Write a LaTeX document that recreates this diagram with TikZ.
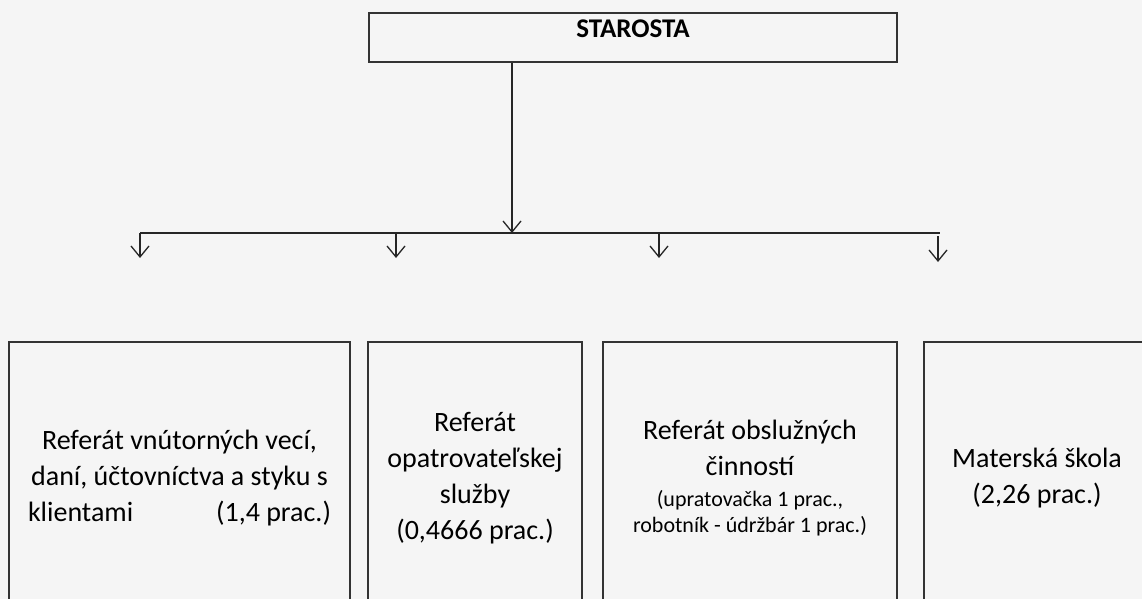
\documentclass[tikz,border=0pt]{standalone}
\usepackage{fontspec}
\setmainfont{Carlito}
\usetikzlibrary{arrows.meta}
\tikzset{
  unit/.style={draw=black!80, line width=1.3pt, align=center, inner sep=0pt,
    font=\fontsize{28}{36}\selectfont},
  arr/.style={line width=1.3pt, draw=black!85,
    -{Straight Barb[length=11pt,width=18pt]}},
  bus/.style={line width=1.6pt, draw=black!85}
}
\newcommand{\smalltxt}[1]{{\fontsize{22}{26}\selectfont #1}}

\begin{document}
\begin{tikzpicture}[x=1pt,y=-1pt]
\fill[black!4] (0,0) rectangle (1142,599);
\clip (0,0) rectangle (1142,599);
\useasboundingbox (0,0) rectangle (1142,599);

\node[unit, minimum width=528pt, minimum height=49pt, text depth=18pt,
  font=\bfseries\fontsize{27}{30}\selectfont] (starosta) at (633,37.5) {STAROSTA};

\node[unit, minimum width=341pt, minimum height=272pt] (vnutorne) at (179.5,478)
  {Referát vnútorných vecí,\\daní, účtovníctva a styku s\\\makebox[303pt]{klientami\hfill(1,4 prac.)}};
\node[unit, minimum width=214pt, minimum height=272pt] (opatr) at (475,478)
  {Referát\\opatrovateľskej\\služby\\(0,4666 prac.)};
\node[unit, minimum width=294pt, minimum height=272pt] (obsluzne) at (750,478)
  {Referát obslužných\\činností\\[-5pt]\smalltxt{(upratovačka 1 prac.,}\\[-10pt]\smalltxt{robotník - údržbár 1 prac.)}};
\node[unit, minimum width=226pt, minimum height=272pt] (skola) at (1037,478)
  {Materská škola\\(2,26 prac.)};

\coordinate (hub) at (512,233);
\coordinate (busW) at (140,233);
\coordinate (busE) at (940,233);
\draw[bus] (busW) -- (busE);
\draw[arr] (starosta.south -| hub) -- (hub);
\foreach \x [count=\i] in {140,396,659} {
  \coordinate (drop\i) at (\x,258);
  \draw[arr] (drop\i |- hub) -- (drop\i);
}
\coordinate (drop4) at (938,262);
\draw[arr] (938,236) -- (drop4);
\end{tikzpicture}
\end{document}
